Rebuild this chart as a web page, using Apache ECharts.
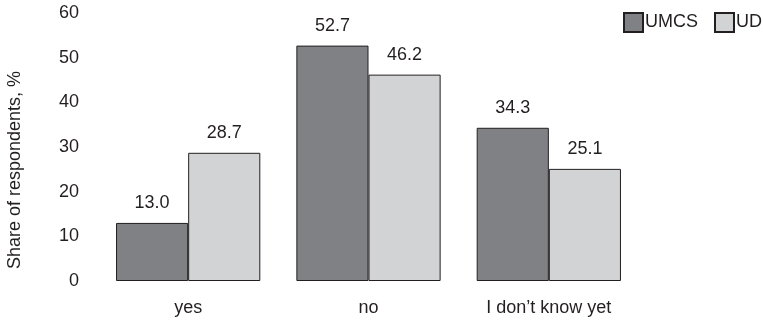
<!DOCTYPE html>
<html><head><meta charset="utf-8">
<script src="https://cdn.jsdelivr.net/npm/echarts@6/dist/echarts.min.js"></script>
<style>html,body{margin:0;padding:0;background:#fff}#c{width:763px;height:322px}</style>
</head><body><div id="c"></div>
<script>
const categories = ["yes", "no", "I don\u2019t know yet"];
const umcs = [13.0, 52.7, 34.3];
const ud = [28.7, 46.2, 25.1];
const yTicks = [0, 10, 20, 30, 40, 50, 60];
const yTitle = "Share of respondents, %";

const txt = '#231f20';
const font = 'Liberation Sans, Arial, sans-serif';
const fs = 18;
const chart = echarts.init(document.getElementById('c'), null, {renderer: 'canvas'});
const lbl = {show: true, position: 'top', distance: 11, color: txt, fontSize: fs, fontFamily: font, formatter: p => p.value.toFixed(1)};
chart.setOption({
  animation: false,
  textStyle: {fontFamily: font},
  legend: {
    left: 623, top: 12, padding: 0, itemWidth: 19, itemHeight: 19, itemGap: 16,
    icon: 'rect',
    textStyle: {color: txt, fontSize: fs, fontFamily: font, padding: [0, 0, 0, -3]},
    data: ['UMCS', 'UD']
  },
  graphic: [{
    type: 'text', x: 15, y: 170, rotation: Math.PI / 2,
    style: {text: yTitle, fill: txt, fontSize: fs, fontFamily: font, textAlign: 'center', textVerticalAlign: 'middle'}
  }],
  grid: {left: 98, right: 124, top: 13, bottom: 41},
  xAxis: {
    type: 'category', data: categories,
    axisLine: {show: false}, axisTick: {show: false},
    axisLabel: {color: txt, fontSize: fs, fontFamily: font, margin: 18}
  },
  yAxis: {
    type: 'value', min: yTicks[0], max: yTicks[yTicks.length - 1], interval: 10,
    axisLine: {show: false}, axisTick: {show: false}, splitLine: {show: false},
    axisLabel: {color: txt, fontSize: fs, fontFamily: font, margin: 19}
  },
  series: [
    {name: 'UMCS', type: 'bar', data: umcs, barGap: '0%', barCategoryGap: '20%',
     itemStyle: {color: '#808184', borderColor: '#231f20', borderWidth: 1}, label: lbl},
    {name: 'UD', type: 'bar', data: ud,
     itemStyle: {color: '#d2d3d5', borderColor: '#231f20', borderWidth: 1}, label: lbl}
  ]
});
</script></body></html>
